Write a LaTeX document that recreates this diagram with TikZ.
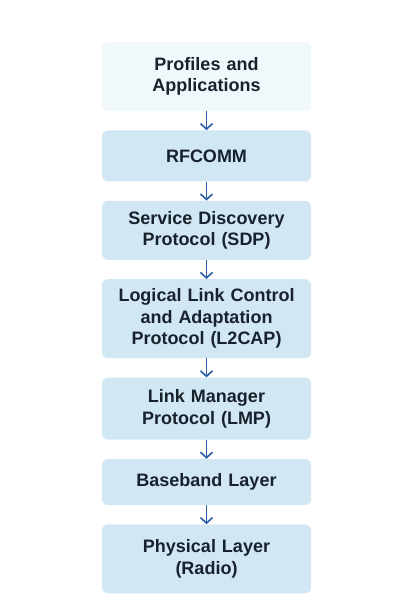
\documentclass[tikz,border=0pt]{standalone}
\usepackage{fontspec}
\setmainfont{Liberation Sans}
\usepackage{tikz}
\usetikzlibrary{positioning,arrows.meta}

\definecolor{layerfill}{HTML}{D2E7F4}
\definecolor{topfill}{HTML}{F0F8FC}
\definecolor{arrowblue}{HTML}{2B5FA8}
\definecolor{textdark}{HTML}{18222C}

\tikzset{
  layer/.style={rectangle, rounded corners=6pt, fill=layerfill, text=textdark,
    minimum width=209pt, text width=207pt, align=center, inner sep=0pt,
    font=\fontsize{18}{21.5}\selectfont\bfseries},
  down/.style={-{Straight Barb[length=5.5pt,width=12pt]}, arrowblue, line width=1.6pt}
}

\begin{document}
\begin{tikzpicture}[x=1pt,y=1pt]
\useasboundingbox[fill=white] (0,0) rectangle (409,-614);

\node[layer, fill=topfill, minimum height=69pt] (apps) at (206.5,-76.5)
    {Profiles and\\Applications};
\node[layer, minimum height=51pt, below=19pt of apps] (rfcomm)
    {RFCOMM};
\node[layer, minimum height=59pt, below=19pt of rfcomm] (sdp)
    {Service Discovery\\Protocol (SDP)};
\node[layer, minimum height=79pt, below=19pt of sdp] (l2cap)
    {Logical Link Control\\and Adaptation\\Protocol (L2CAP)};
\node[layer, minimum height=62pt, below=19pt of l2cap] (lmp)
    {Link Manager\\Protocol (LMP)};
\node[layer, minimum height=46pt, below=19pt of lmp] (baseband)
    {Baseband Layer};
\node[layer, minimum height=69pt, below=19pt of baseband] (radio)
    {Physical Layer\\(Radio)};

\draw[down] (apps) -- (rfcomm);
\draw[down] (rfcomm) -- (sdp);
\draw[down] (sdp) -- (l2cap);
\draw[down] (l2cap) -- (lmp);
\draw[down] (lmp) -- (baseband);
\draw[down] (baseband) -- (radio);
\end{tikzpicture}
\end{document}
